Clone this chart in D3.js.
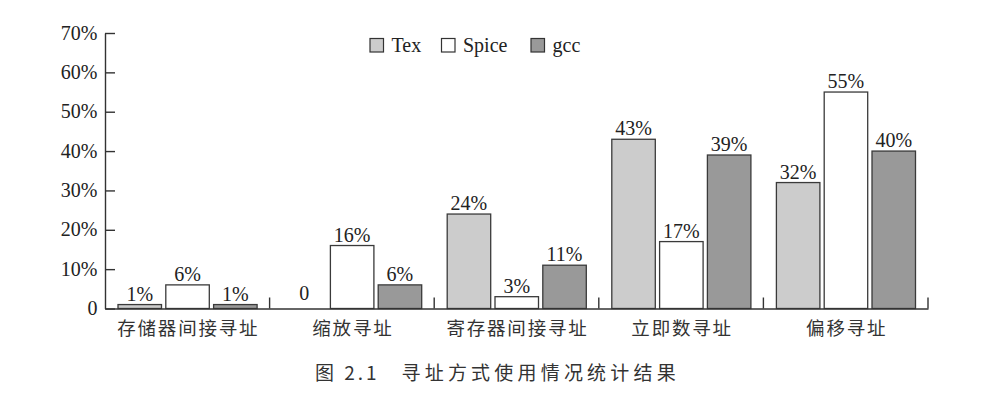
<!DOCTYPE html>
<html>
<head>
<meta charset="UTF-8">
<title>寻址方式使用情况统计结果</title>
<style>
body { margin: 0; background: #fff; }
.num { font-family: "Liberation Serif", "Times New Roman", Times, "DejaVu Serif", serif; font-size: 20px; fill: #222; }
.cjk { font-family: "Noto Sans CJK SC", sans-serif; font-size: 18.5px; fill: #333; letter-spacing: 1.8px; }
.bar { stroke: #3a3a3a; stroke-width: 1.3px; }
</style>
</head>
<body>
<div id="chart"></div>
<script src="https://cdnjs.cloudflare.com/ajax/libs/d3/7.8.5/d3.min.js"></script>
<script>
// data
const categories = ["存储器间接寻址", "缩放寻址", "寄存器间接寻址", "立即数寻址", "偏移寻址"];
const series = ["Tex", "Spice", "gcc"];
const texValues = [1, 0, 24, 43, 32];
const spiceValues = [6, 16, 3, 17, 55];
const gccValues = [1, 6, 11, 39, 40];
const yTicks = [0, 10, 20, 30, 40, 50, 60, 70];
const captionNo = "图 2.1";
const captionText = "寻址方式使用情况统计结果";

const colors = { Tex: "#cccccc", Spice: "#ffffff", gcc: "#999999" };
const values = { Tex: texValues, Spice: spiceValues, gcc: gccValues };

const width = 986, height = 397;
const m = { left: 105, right: 928, top: 33, bottom: 308.5 };

const svg = d3.select("#chart").append("svg")
    .attr("width", width)
    .attr("height", height);

const x = d3.scaleBand().domain(categories).range([m.left, m.right]).paddingInner(0).paddingOuter(0);
const xs = d3.scaleBand().domain(series).range([13, x.bandwidth() - 12.5]).paddingInner(0.09);
const y = d3.scaleLinear().domain([0, 70]).range([m.bottom, m.top]);

// y axis with ticks pointing inside
const yAxis = svg.append("g")
    .attr("transform", "translate(" + m.left + ",0)")
    .call(d3.axisRight(y).tickValues(yTicks).tickSize(10).tickSizeOuter(0).tickFormat(""));
yAxis.select(".domain").attr("stroke", "#333").attr("stroke-width", 1.4);
yAxis.selectAll(".tick line").attr("stroke", "#333").attr("stroke-width", 1.4);

svg.selectAll("text.ylab")
    .data(yTicks)
    .enter().append("text")
    .attr("class", "num ylab")
    .attr("x", m.left - 7.5)
    .attr("y", d => y(d) + 6.5)
    .attr("text-anchor", "end")
    .text(d => d === 0 ? "0" : d + "%");

// bars
const groups = svg.selectAll("g.cat")
    .data(categories)
    .enter().append("g")
    .attr("class", "cat")
    .attr("transform", d => "translate(" + x(d) + ",0)");

series.forEach(s => {
    groups.filter((d, i) => values[s][i] > 0)
        .append("rect")
        .attr("class", "bar")
        .attr("x", xs(s))
        .attr("width", xs.bandwidth())
        .attr("y", (d) => y(values[s][categories.indexOf(d)]))
        .attr("height", (d) => m.bottom - y(values[s][categories.indexOf(d)]))
        .attr("fill", colors[s]);
    groups.append("text")
        .attr("class", "num")
        .attr("x", xs(s) + xs.bandwidth() / 2)
        .attr("y", (d) => {
            const v = values[s][categories.indexOf(d)];
            return v === 0 ? m.bottom - 8.5 : y(v) - 4;
        })
        .attr("text-anchor", "middle")
        .text((d) => {
            const v = values[s][categories.indexOf(d)];
            return v === 0 ? "0" : v + "%";
        });
});

// x axis with separators
const xAxis = svg.append("g")
    .attr("transform", "translate(0," + m.bottom + ")")
    .call(d3.axisTop(x).tickSize(0).tickSizeOuter(0).tickFormat(""));
xAxis.select(".domain").attr("stroke", "#333").attr("stroke-width", 1.4);
svg.selectAll("line.sep")
    .data(categories)
    .enter().append("line")
    .attr("class", "sep")
    .attr("x1", d => x(d) + x.bandwidth())
    .attr("x2", d => x(d) + x.bandwidth())
    .attr("y1", m.bottom)
    .attr("y2", m.bottom - 11)
    .attr("stroke", "#333")
    .attr("stroke-width", 1.4);

svg.selectAll("text.xlab")
    .data(categories)
    .enter().append("text")
    .attr("class", "cjk xlab")
    .attr("x", d => x(d) + x.bandwidth() / 2 + 1)
    .attr("y", 335)
    .attr("text-anchor", "middle")
    .text(d => d);

// legend
const legendX = [370, 441.5, 531];
const legend = svg.selectAll("g.legend")
    .data(series)
    .enter().append("g")
    .attr("class", "legend")
    .attr("transform", (d, i) => "translate(" + legendX[i] + ",38.5)");
legend.append("rect")
    .attr("width", 13.5)
    .attr("height", 13.5)
    .attr("fill", d => colors[d])
    .attr("stroke", "#333")
    .attr("stroke-width", 1.2);
legend.append("text")
    .attr("class", "num")
    .attr("x", 21.5)
    .attr("y", 13)
    .text(d => d);

// caption
svg.append("text")
    .attr("class", "cjk")
    .attr("x", 315)
    .attr("y", 380)
    .style("font-size", "19px")
    .style("letter-spacing", "3px")
    .style("white-space", "pre")
    .text(captionNo);
svg.append("text")
    .attr("class", "cjk")
    .attr("x", 401.5)
    .attr("y", 380)
    .style("font-size", "19px")
    .style("letter-spacing", "4.2px")
    .text(captionText);
</script>
</body>
</html>
